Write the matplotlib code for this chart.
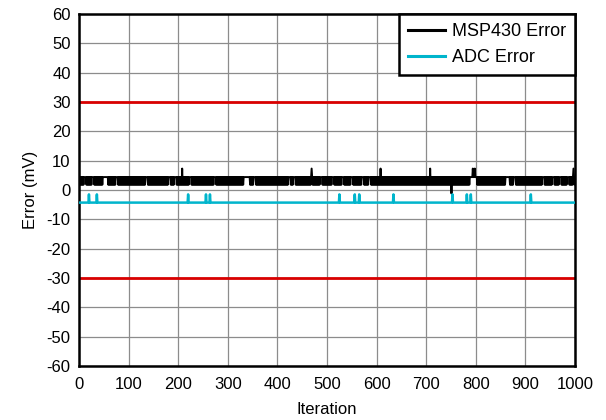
import numpy as np
import matplotlib.pyplot as plt

plt.rcParams['font.family'] = ['Liberation Sans', 'DejaVu Sans']
plt.rcParams['axes.unicode_minus'] = False

# values (mV)
n_iter = 1000
msp_high = 4.4
msp_low = 1.8
msp_spike_iters = [208, 469, 608, 708, 794, 798, 997]
msp_spike_val = 7.3
msp_dip_iters = [751]
msp_dip_val = -1.2
# stretches where the MSP430 error stays at the upper level
msp_flat_runs = [(10, 13), (27, 30), (48, 57), (74, 77), (134, 137), (181, 184),
                 (192, 195), (222, 225), (272, 275), (333, 343), (353, 356),
                 (423, 426), (433, 436), (487, 490), (511, 514), (531, 534),
                 (548, 551), (571, 574), (585, 588), (789, 801), (860, 868),
                 (877, 880), (934, 937), (954, 957), (968, 971), (984, 987)]

adc_base = -4.3
adc_spike_val = -1.5
adc_spike_iters = [20, 36, 220, 256, 264, 525, 556, 565, 634, 753, 782, 790, 911]

limit = 30

iters = np.arange(n_iter + 1)

msp = np.where(iters % 2 == 0, msp_high, msp_low)
for a, b in msp_flat_runs:
    msp[a:b + 1] = msp_high
msp[msp_spike_iters] = msp_spike_val
msp[msp_dip_iters] = msp_dip_val

adc = np.full(len(iters), adc_base)
adc[adc_spike_iters] = adc_spike_val

fig = plt.figure(figsize=(6.06, 4.2), dpi=100)
ax = fig.add_axes([0.1304, 0.1286, 0.8184, 0.8381])

ax.axhline(limit, color='#d90000', lw=2, zorder=2)
ax.axhline(-limit, color='#d90000', lw=2, zorder=2)
ax.plot(iters, msp, color='black', lw=1.4, label='MSP430 Error', zorder=3)
ax.plot(iters, adc, color='#00b5cc', lw=1.8, label='ADC Error', zorder=3)

ax.set_xlim(0, 1000)
ax.set_ylim(-60, 60)
ax.set_xticks(np.arange(0, 1001, 100))
ax.set_yticks(np.arange(-60, 61, 10))
ax.grid(True, color='#8c8c8c', lw=0.9)
ax.set_axisbelow(True)
ax.tick_params(length=0, labelsize=12)
ax.tick_params(axis='x', pad=8)
ax.tick_params(axis='y', pad=6)
for s in ax.spines.values():
    s.set_linewidth(1.8)

ax.set_xlabel('Iteration', fontsize=12, labelpad=7)
ax.set_ylabel('Error (mV)', fontsize=12, labelpad=6)

leg = ax.legend(loc='upper right', borderaxespad=0, fontsize=13, fancybox=False,
                framealpha=1, edgecolor='black', handlelength=2.0,
                handletextpad=0.4, borderpad=0.5, labelspacing=0.5)
leg.get_frame().set_linewidth(1.8)
for h in leg.get_lines():
    h.set_linewidth(2.2)

fig.savefig('out.png', dpi=100)
